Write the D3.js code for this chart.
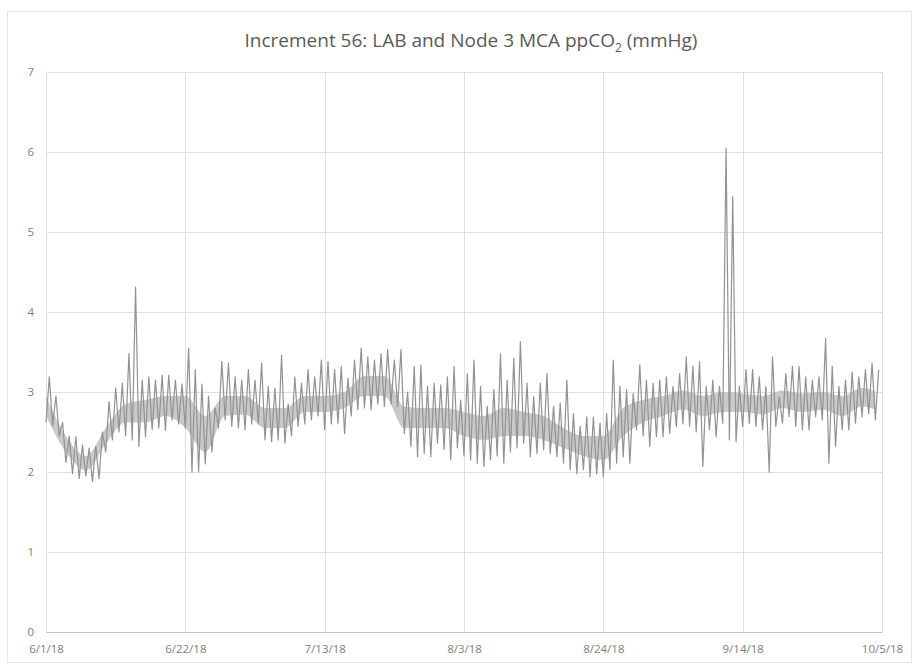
<!DOCTYPE html>
<html>
<head>
<meta charset="utf-8">
<script src="https://cdn.jsdelivr.net/npm/d3@7"></script>
<style>
    body { margin: 0; background: #fff; }
    svg { display: block; }
</style>
</head>
<body>
<div id="chart"></div>
<script>
// chart text
var title = "Increment 56:  LAB and Node 3 MCA ppCO";
var startDay = "6/1/18";
var endDay = "10/5/18";
var xTickLabels = ["6/1/18", "6/22/18", "7/13/18", "8/3/18", "8/24/18", "9/14/18", "10/5/18"];
var yTicks = [0, 1, 2, 3, 4, 5, 6, 7];

// daily high / low of ppCO2 (mmHg), day 0 = 6/1/18
var dayHigh = [3.19, 2.95, 2.62, 2.45, 2.44, 2.34, 2.30, 2.32, 2.50, 2.88,
    3.05, 3.11, 3.48, 4.31, 3.15, 3.19, 3.15, 3.21, 3.21, 3.15,
    3.10, 3.55, 3.28, 3.10, 2.95, 2.80, 3.38, 3.36, 3.19, 3.15,
    3.28, 3.15, 3.36, 3.07, 3.05, 3.46, 2.85, 3.19, 3.11, 3.28,
    3.19, 3.40, 3.38, 3.28, 3.32, 3.17, 3.40, 3.55, 3.44, 3.40,
    3.48, 3.53, 3.40, 3.53, 3.00, 3.32, 3.34, 3.07, 3.11, 3.09,
    3.19, 3.32, 2.90, 3.23, 3.40, 3.07, 2.82, 3.03, 3.48, 3.15,
    3.42, 3.63, 3.11, 2.94, 3.11, 3.23, 2.82, 2.86, 3.15, 2.73,
    2.57, 2.69, 2.69, 2.61, 2.73, 3.40, 3.07, 3.03, 2.98, 3.34,
    3.15, 3.11, 3.15, 3.19, 3.07, 3.23, 3.44, 3.32, 3.38, 3.07,
    3.15, 3.07, 6.05, 5.44, 3.07, 3.28, 3.28, 3.19, 3.07, 3.44,
    2.94, 3.23, 3.32, 3.32, 3.19, 3.15, 3.19, 3.67, 3.32, 3.07,
    3.15, 3.25, 3.19, 3.28, 3.36, 3.28];
var dayLow = [2.62, 2.58, 2.45, 2.12, 1.98, 1.92, 1.95, 1.88, 1.92, 2.25,
    2.40, 2.50, 2.45, 2.40, 2.32, 2.44, 2.53, 2.55, 2.52, 2.65,
    2.60, 2.55, 2.00, 2.00, 2.10, 2.25, 2.55, 2.65, 2.57, 2.55,
    2.53, 2.60, 2.60, 2.40, 2.38, 2.40, 2.36, 2.45, 2.57, 2.60,
    2.65, 2.70, 2.53, 2.60, 2.61, 2.48, 2.70, 2.78, 2.80, 2.78,
    2.85, 2.82, 2.85, 2.82, 2.48, 2.32, 2.19, 2.23, 2.19, 2.36,
    2.28, 2.15, 2.30, 2.20, 2.15, 2.11, 2.07, 2.15, 2.20, 2.11,
    2.25, 2.30, 2.36, 2.19, 2.23, 2.28, 2.23, 2.19, 2.11, 2.03,
    1.98, 2.03, 1.94, 1.98, 1.94, 2.03, 2.11, 2.19, 2.11, 2.53,
    2.45, 2.32, 2.44, 2.44, 2.48, 2.57, 2.60, 2.57, 2.50, 2.07,
    2.53, 2.44, 2.61, 2.40, 2.38, 2.57, 2.61, 2.57, 2.53, 2.00,
    2.57, 2.61, 2.69, 2.57, 2.53, 2.53, 2.69, 2.65, 2.11, 2.32,
    2.53, 2.53, 2.61, 2.69, 2.73, 2.65];

// dense core of the trace, read every 3 days
var bandDays = [0, 3, 6, 9, 12, 15, 18, 21, 24, 27, 30, 33, 36, 39, 42, 45, 48, 51, 54, 57, 60,
    63, 66, 69, 72, 75, 78, 81, 84, 87, 90, 93, 96, 99, 102, 105, 108, 111, 114, 117, 120, 123, 125];
var bandTop = [2.95, 2.45, 2.20, 2.55, 2.85, 2.90, 2.95, 2.95, 2.70, 2.95, 2.95, 2.80, 2.80, 2.95, 2.95,
    3.00, 3.20, 3.20, 2.82, 2.80, 2.80, 2.75, 2.70, 2.80, 2.75, 2.70, 2.55, 2.45, 2.45, 2.80,
    2.90, 2.95, 3.02, 2.95, 3.00, 2.98, 2.95, 3.02, 2.98, 3.00, 2.95, 3.05, 3.00];
var bandBottom = [2.70, 2.25, 2.02, 2.35, 2.62, 2.62, 2.70, 2.55, 2.25, 2.70, 2.72, 2.55, 2.55, 2.75, 2.75,
    2.80, 2.95, 2.95, 2.55, 2.55, 2.55, 2.45, 2.40, 2.45, 2.45, 2.40, 2.30, 2.20, 2.15, 2.45,
    2.62, 2.70, 2.78, 2.70, 2.75, 2.75, 2.72, 2.80, 2.75, 2.78, 2.70, 2.82, 2.78];

(function () {
    var W = 915, H = 666;
    var left = 46, right = 882, top = 72, bottom = 632;
    var parse = d3.timeParse("%m/%d/%y");
    var t0 = parse(startDay);

    function dayToDate(d) {
        return new Date(t0.getTime() + d * 86400000);
    }
    function fmt(d) {
        return (d.getMonth() + 1) + "/" + d.getDate() + "/" + String(d.getFullYear()).slice(2);
    }

    var svg = d3.select("#chart").append("svg")
        .attr("width", W)
        .attr("height", H);

    // outer chart frame
    svg.append("rect")
        .attr("x", 7.5).attr("y", 11.5)
        .attr("width", 904).attr("height", 651)
        .attr("fill", "none")
        .attr("stroke", "#e6e6e6");

    var x = d3.scaleTime()
        .domain([parse(startDay), parse(endDay)])
        .range([left, right]);
    var y = d3.scaleLinear()
        .domain([0, 7])
        .range([bottom, top]);

    var tickDates = xTickLabels.map(function (s) { return parse(s); });

    // grid
    var grid = svg.append("g");
    grid.selectAll("line.h")
        .data(yTicks.slice(1))
        .enter().append("line")
        .attr("class", "h")
        .attr("x1", left).attr("x2", right)
        .attr("y1", function (d) { return Math.round(y(d)) + 0.5; })
        .attr("y2", function (d) { return Math.round(y(d)) + 0.5; })
        .attr("stroke", "#e0e0e0");
    grid.selectAll("line.v")
        .data(tickDates)
        .enter().append("line")
        .attr("class", "v")
        .attr("x1", function (d) { return Math.round(x(d)) + 0.5; })
        .attr("x2", function (d) { return Math.round(x(d)) + 0.5; })
        .attr("y1", top).attr("y2", bottom)
        .attr("stroke", "#e0e0e0");

    // axes
    var xAxis = d3.axisBottom(x)
        .tickValues(tickDates)
        .tickFormat(fmt)
        .tickSize(0)
        .tickPadding(13);
    var gx = svg.append("g")
        .attr("transform", "translate(0," + bottom + ")")
        .call(xAxis);
    gx.select(".domain").attr("stroke", "#c4c4c4");

    var yAxis = d3.axisLeft(y)
        .tickValues(yTicks)
        .tickFormat(d3.format("d"))
        .tickSize(0)
        .tickPadding(12);
    var gy = svg.append("g")
        .attr("transform", "translate(" + left + ",0)")
        .call(yAxis);
    gy.select(".domain").remove();

    svg.selectAll(".tick text")
        .attr("fill", "#7e7e7e")
        .style("font-family", "'Liberation Sans Narrow', 'Open Sans', sans-serif")
        .style("font-size", "11.5px");

    // dense core band
    var band = bandDays.map(function (d, i) {
        return { t: dayToDate(d), hi: bandTop[i], lo: bandBottom[i] };
    });
    svg.append("path")
        .datum(band)
        .attr("fill", "#bcbcbc")
        .attr("fill-opacity", 0.8)
        .attr("d", d3.area()
            .curve(d3.curveMonotoneX)
            .x(function (d) { return x(d.t); })
            .y0(function (d) { return y(d.lo); })
            .y1(function (d) { return y(d.hi); }));

    // trace: low at start of each day, high at mid-day
    var pts = [];
    for (var i = 0; i < dayHigh.length; i++) {
        pts.push({ t: dayToDate(i), v: dayLow[i] });
        pts.push({ t: dayToDate(i + 0.5), v: dayHigh[i] });
    }
    svg.append("path")
        .datum(pts)
        .attr("fill", "none")
        .attr("stroke", "#929292")
        .attr("stroke-width", 1.2)
        .attr("stroke-linejoin", "round")
        .attr("d", d3.line()
            .x(function (d) { return x(d.t); })
            .y(function (d) { return y(d.v); }));

    // title with subscript 2
    var tt = svg.append("text")
        .attr("x", 471)
        .attr("y", 47)
        .attr("text-anchor", "middle")
        .attr("fill", "#5a5a5a")
        .style("font-family", "'Open Sans', sans-serif")
        .style("font-size", "19px");
    tt.append("tspan").text(title);
    tt.append("tspan").attr("dy", 5).style("font-size", "12px").text("2");
    tt.append("tspan").attr("dy", -5).text(" (mmHg)");
})();
</script>
</body>
</html>
